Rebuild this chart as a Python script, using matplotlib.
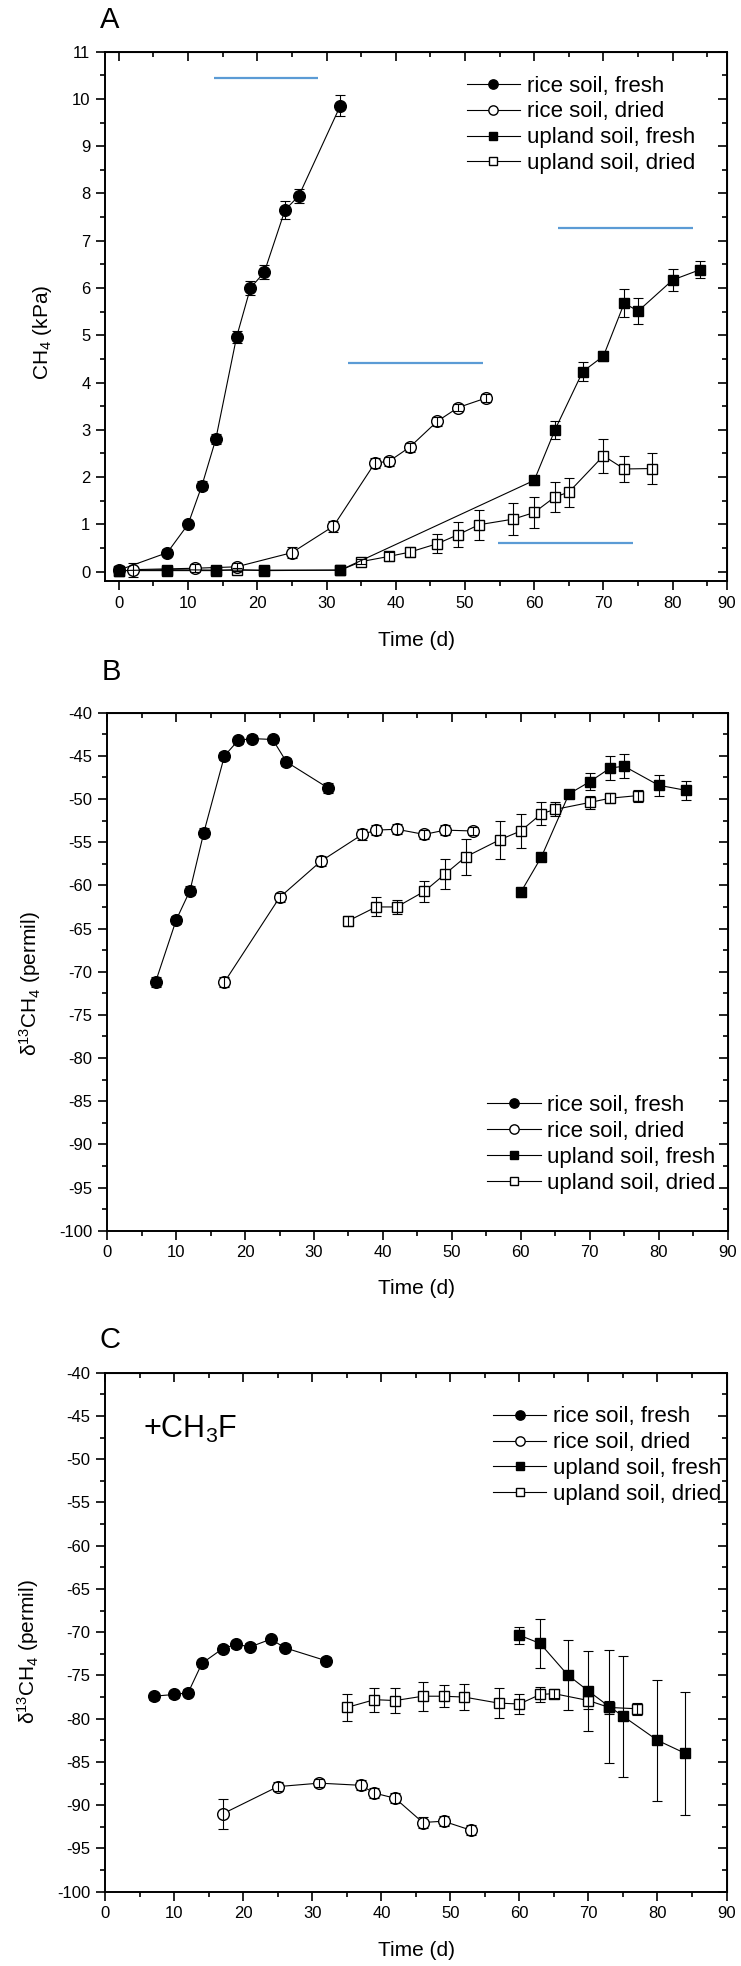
import numpy as np
import matplotlib
matplotlib.use("Agg")
import matplotlib.pyplot as plt
from matplotlib.ticker import MultipleLocator

plt.rcParams['font.family'] = ['Liberation Sans', 'DejaVu Sans']
plt.rcParams['mathtext.fontset'] = 'custom'
plt.rcParams['mathtext.rm'] = 'Liberation Sans'
plt.rcParams['mathtext.it'] = 'Liberation Sans:italic'
plt.rcParams['axes.unicode_minus'] = False

labels = ['rice soil, fresh', 'rice soil, dried', 'upland soil, fresh', 'upland soil, dried']

# panel A: CH4 partial pressure (kPa)
a_rice_fresh_t = [0, 7, 10, 12, 14, 17, 19, 21, 24, 26, 32]
a_rice_fresh = [0.03, 0.4, 1.0, 1.82, 2.8, 4.96, 6.0, 6.33, 7.65, 7.95, 9.86]
a_rice_fresh_err = [0.03, 0.08, 0.06, 0.1, 0.1, 0.12, 0.15, 0.15, 0.2, 0.15, 0.22]
a_rice_dried_t = [2, 11, 17, 25, 31, 37, 39, 42, 46, 49, 53]
a_rice_dried = [0.04, 0.07, 0.1, 0.4, 0.96, 2.3, 2.33, 2.63, 3.18, 3.47, 3.67]
a_rice_dried_err = [0.15, 0.08, 0.08, 0.12, 0.12, 0.1, 0.1, 0.1, 0.1, 0.08, 0.08]
a_upl_fresh_t = [0, 7, 14, 21, 32, 60, 63, 67, 70, 73, 75, 80, 84]
a_upl_fresh = [0.02, 0.04, 0.03, 0.03, 0.03, 1.93, 3.0, 4.23, 4.56, 5.68, 5.51, 6.17, 6.39]
a_upl_fresh_err = [0.02, 0.03, 0.02, 0.02, 0.03, 0.1, 0.19, 0.2, 0.1, 0.3, 0.27, 0.23, 0.18]
a_upl_dried_t = [0, 7, 14, 17, 21, 32, 35, 39, 42, 46, 49, 52, 57, 60, 63, 65, 70, 73, 77]
a_upl_dried = [0.02, 0.02, 0.02, 0.04, 0.02, 0.03, 0.21, 0.32, 0.41, 0.59, 0.78, 0.99,
               1.11, 1.25, 1.58, 1.68, 2.45, 2.17, 2.18]
a_upl_dried_err = [0.02, 0.02, 0.02, 0.03, 0.02, 0.02, 0.06, 0.1, 0.1, 0.2, 0.26, 0.32,
                   0.33, 0.32, 0.32, 0.31, 0.36, 0.27, 0.32]

# hand-drawn blue bars in panel A
blue_x0 = [13.7, 33.1, 63.5, 54.8]
blue_x1 = [28.8, 52.6, 83.0, 74.3]
blue_y = [10.44, 4.41, 7.27, 0.61]

# panel B: delta13C of CH4
b_rice_fresh_t = [7, 10, 12, 14, 17, 19, 21, 24, 26, 32]
b_rice_fresh = [-71.2, -64.0, -60.6, -53.9, -45.0, -43.2, -43.0, -43.1, -45.7, -48.7]
b_rice_fresh_err = [0.6, 0.5, 0.5, 0.5, 0.5, 0.4, 0.4, 0.4, 0.5, 0.6]
b_rice_dried_t = [17, 25, 31, 37, 39, 42, 46, 49, 53]
b_rice_dried = [-71.2, -61.4, -57.2, -54.1, -53.6, -53.5, -54.1, -53.6, -53.7]
b_rice_dried_err = [0.6, 0.5, 0.6, 0.6, 0.6, 0.6, 0.5, 0.6, 0.5]
b_upl_fresh_t = [60, 63, 67, 70, 73, 75, 80, 84]
b_upl_fresh = [-60.8, -56.7, -49.4, -48.0, -46.4, -46.2, -48.4, -49.0]
b_upl_fresh_err = [0.5, 0.5, 0.4, 1.0, 1.4, 1.4, 1.2, 1.1]
b_upl_dried_t = [35, 39, 42, 46, 49, 52, 57, 60, 63, 65, 70, 73, 77]
b_upl_dried = [-64.1, -62.5, -62.5, -60.7, -58.7, -56.7, -54.7, -53.7, -51.7, -51.2,
               -50.4, -49.9, -49.6]
b_upl_dried_err = [0.6, 1.1, 0.8, 1.2, 1.7, 2.1, 2.2, 2.0, 1.3, 0.8, 0.7, 0.6, 0.7]

# panel C: delta13C of CH4 with CH3F
c_rice_fresh_t = [7, 10, 12, 14, 17, 19, 21, 24, 26, 32]
c_rice_fresh = [-77.4, -77.2, -77.0, -73.6, -71.9, -71.4, -71.7, -70.8, -71.8, -73.3]
c_rice_fresh_err = [0.4, 0.4, 0.4, 0.4, 0.4, 0.4, 0.4, 0.4, 0.4, 0.4]
c_rice_dried_t = [17, 25, 31, 37, 39, 42, 46, 49, 53]
c_rice_dried = [-91.0, -87.85, -87.45, -87.7, -88.6, -89.2, -92.0, -91.85, -92.9]
c_rice_dried_err = [1.7, 0.5, 0.5, 0.6, 0.6, 0.6, 0.6, 0.6, 0.6]
c_upl_fresh_t = [60, 63, 67, 70, 73, 75, 80, 84]
c_upl_fresh = [-70.35, -71.3, -74.95, -76.8, -78.6, -79.7, -82.5, -84.0]
c_upl_fresh_err = [1.0, 2.85, 4.0, 4.6, 6.5, 7.0, 7.0, 7.1]
c_upl_dried_t = [35, 39, 42, 46, 49, 52, 57, 60, 63, 65, 70, 73, 77]
c_upl_dried = [-78.7, -77.8, -77.9, -77.4, -77.4, -77.5, -78.2, -78.3, -77.2, -77.1,
               -77.9, -78.7, -78.85]
c_upl_dried_err = [1.6, 1.4, 1.4, 1.7, 1.3, 1.5, 1.7, 1.2, 0.9, 0.5, 1.0, 0.8, 0.7]

# marker style per series: (marker, face, size, zorder)
styles = [('o', 'black', 8.4, 3.3), ('o', 'white', 8.4, 3.1),
          ('s', 'black', 7.2, 3.2), ('s', 'white', 6.6, 3.0)]


def plot_series(ax, series):
    handles = []
    for k, (t, y, e) in enumerate(series):
        m, fc, ms, z = styles[k]
        h, = ax.plot(t, y, color='black', lw=0.8, marker=m, mfc=fc, mec='black', mew=1.0,
                     ms=ms, label=labels[k], zorder=z)
        ax.errorbar(t, y, yerr=e, fmt='none', ecolor='black', elinewidth=0.8,
                    capsize=3.6, capthick=0.8, zorder=3.5)
        handles.append(h)
    return handles


def style_axes(ax, xmajor, xlabels, xminor, ymajor, yminor, xlim, ylim):
    ax.set_xlim(*xlim)
    ax.set_ylim(*ylim)
    ax.set_xticks(xmajor)
    ax.set_xticklabels(xlabels)
    ax.xaxis.set_minor_locator(MultipleLocator(xminor))
    ax.set_yticks(ymajor)
    ax.yaxis.set_minor_locator(MultipleLocator(yminor))
    ax.tick_params(which='major', direction='out', length=6.5, width=1.2, labelsize=12, pad=4)
    ax.tick_params(which='minor', direction='out', length=3.6, width=1.2)
    for sp in ax.spines.values():
        sp.set_linewidth(1.4)
    top = ax.secondary_xaxis('top')
    top.set_xticks([v for v in xmajor if v <= 80.5])
    top.xaxis.set_minor_locator(MultipleLocator(xminor))
    top.tick_params(which='major', direction='in', length=6.5, width=1.2, labeltop=False)
    top.tick_params(which='minor', direction='in', length=3.6, width=1.2)
    right = ax.secondary_yaxis('right')
    right.set_yticks(ymajor)
    right.yaxis.set_minor_locator(MultipleLocator(yminor))
    right.tick_params(which='major', direction='in', length=6.5, width=1.2, labelright=False)
    right.tick_params(which='minor', direction='in', length=3.6, width=1.2)


def add_legend(ax, handles, x, y):
    ax.legend(handles=handles, loc='upper left', bbox_to_anchor=(x, y), frameon=False,
              fontsize=16, handlelength=2.4, handletextpad=0.3, labelspacing=0.22,
              borderpad=0, borderaxespad=0, markerscale=0.8)


fig = plt.figure(figsize=(7.41, 19.66), dpi=100)
W, H = 741, 1966


def axes_px(left, top, right, bottom):
    return fig.add_axes([left / W, 1 - bottom / H, (right - left) / W, (bottom - top) / H])


# ---- panel A
a_xmax = 87.8
axA = axes_px(105, 51.7, 726.7, 581)
hA = plot_series(axA, [(a_rice_fresh_t, a_rice_fresh, a_rice_fresh_err),
                       (a_rice_dried_t, a_rice_dried, a_rice_dried_err),
                       (a_upl_fresh_t, a_upl_fresh, a_upl_fresh_err),
                       (a_upl_dried_t, a_upl_dried, a_upl_dried_err)])
axA.hlines(blue_y, blue_x0, blue_x1, color='#5b9bd5', lw=1.6, zorder=2)
style_axes(axA, list(range(0, 81, 10)) + [a_xmax],
           [str(v) for v in range(0, 81, 10)] + ['90'], 5,
           list(range(0, 12)), 0.5, (-2, a_xmax), (-0.2, 11))
add_legend(axA, hA, 0.582, 0.955)

# ---- panel B
axB = axes_px(107.3, 712.7, 727.5, 1230.7)
hB = plot_series(axB, [(b_rice_fresh_t, b_rice_fresh, b_rice_fresh_err),
                       (b_rice_dried_t, b_rice_dried, b_rice_dried_err),
                       (b_upl_fresh_t, b_upl_fresh, b_upl_fresh_err),
                       (b_upl_dried_t, b_upl_dried, b_upl_dried_err)])
style_axes(axB, list(range(0, 91, 10)), [str(v) for v in range(0, 91, 10)], 5,
           list(range(-100, -39, 5)), 2.5, (0, 90), (-100, -40))
add_legend(axB, hB, 0.613, 0.262)

# ---- panel C
axC = axes_px(105.3, 1372.7, 726.5, 1891.7)
hC = plot_series(axC, [(c_rice_fresh_t, c_rice_fresh, c_rice_fresh_err),
                       (c_rice_dried_t, c_rice_dried, c_rice_dried_err),
                       (c_upl_fresh_t, c_upl_fresh, c_upl_fresh_err),
                       (c_upl_dried_t, c_upl_dried, c_upl_dried_err)])
style_axes(axC, list(range(0, 91, 10)), [str(v) for v in range(0, 91, 10)], 5,
           list(range(-100, -39, 5)), 2.5, (0, 90), (-100, -40))
add_legend(axC, hC, 0.624, 0.935)
axC.text(0.06, 0.89, '+CH$_3$F', transform=axC.transAxes, fontsize=22, va='center')

# panel letters, axis titles
for (x, y, s) in [(110, 20, 'A'), (111.7, 671.7, 'B'), (110, 1340, 'C')]:
    fig.text(x / W, 1 - y / H, s, fontsize=21, ha='center', va='center')
for y in [640, 1289, 1951]:
    fig.text(416 / W, 1 - y / H, 'Time (d)', fontsize=15, ha='center', va='center')
fig.text(42 / W, 1 - 332 / H, 'CH$_4$ (kPa)', fontsize=15, rotation=90, ha='center', va='center')
d13 = 'δ$^{13}$CH$_4$ (permil)'
fig.text(30 / W, 1 - 984 / H, d13, fontsize=15, rotation=90, ha='center', va='center')
fig.text(28 / W, 1 - 1652 / H, d13, fontsize=15, rotation=90, ha='center', va='center')

fig.savefig('out.png', dpi=100)
